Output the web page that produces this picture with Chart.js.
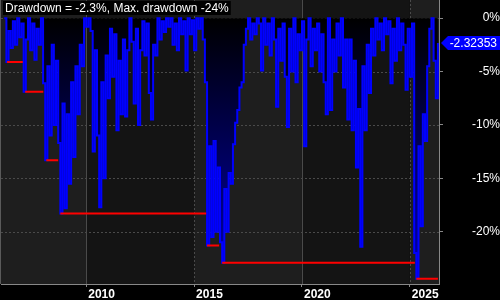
<!DOCTYPE html>
<html>
<head>
<meta charset="utf-8">
<script src="https://cdn.jsdelivr.net/npm/chart.js@4.4.1/dist/chart.umd.min.js"></script>
<style>
  html, body { margin: 0; padding: 0; background: #000; }
  #wrap { width: 500px; height: 300px; position: relative; }
</style>
</head>
<body>
<div id="wrap"><canvas id="ddChart"></canvas></div>
<script>
// Drawdown in percent, one value every 0.1 year from 2006.2
const startYear = 2006.2;
const stepYears = 0.1;
const drawdown = [
    0, -4.1, -1.2, -2.8, -0.3, -2.5, 0, -1.8, -0.5, -6.9,
    -2.0, 0, -3.0, -0.5, -3.9, -1.0, -2.5, 0, -6.1, -13.3,
    -4.5, -11.0, -2.5, -10.0, -4.0, -11.7, -18.3, -8.0, -17.8, -9.0,
    -15.5, -6.0, -13.0, -4.5, -9.0, -2.5, -4.5, 0, -0.8, 0,
    -1.2, -12.5, -3.0, -11.0, -17.7, -6.0, -15.0, -3.5, -7.5, -1.0,
    -5.5, -1.5, -10.5, -4.0, -9.0, -2.0, -9.2, -3.0, 0, -2.2,
    -8.0, -1.0, -10.0, -3.0, -0.3, -3.5, -0.5, -7.0, -9.5, -2.5,
    -3.5, 0, -2.0, -0.3, -1.3, 0, -0.8, 0, -2.5, -0.5,
    -3.0, 0, -1.5, -0.3, -4.9, 0, -1.5, -0.2, -3.0, 0,
    -1.0, 0, -2.0, -6.0, -21.3, -12.0, -20.5, -11.5, -20.0, -14.0,
    -21.0, -22.9, -16.0, -20.0, -14.5, -15.5, -11.8, -9.8, -8.6, -6.5,
    -6.0, -2.5, -1.0, 0, -2.0, -0.5, -1.5, 0, -0.5, -4.9,
    0, -2.5, -0.5, -3.5, 0, -2.0, -8.3, -1.0, -4.0, -0.5,
    -5.5, -10.2, -1.0, -5.0, 0, -6.0, -1.5, -3.0, -0.3, -12.0,
    -2.0, 0, -4.5, -1.0, -3.0, -0.5, -5.0, -1.5, -6.0, -9.0,
    0, -8.6, -2.0, -5.0, -0.5, -3.5, 0, -6.5, -2.0, -9.5,
    -2.0, -10.5, -4.0, -14.0, -8.5, -21.4, -4.5, -10.5, -2.5, -7.0,
    -1.0, -3.5, 0, -2.0, -0.5, -3.0, 0, -1.5, -0.3, -6.1,
    -1.0, -4.0, 0, -3.0, -0.5, -2.5, -6.7, -1.0, -5.5, -0.5,
    -22.0, -24.4, -12.0, -19.5, -9.0, -11.5, -4.5, -1.0, 0, -4.0,
    -7.5, -2.32353
];

// Max drawdown levels (red steps)
const maxDdStart = [2006.33, 2007.17, 2008.15, 2008.8, 2015.6, 2016.3, 2025.3];
const maxDdEnd = [2007.06, 2008.01, 2008.7, 2015.56, 2016.16, 2025.23, 2026.3];
const maxDdLevel = [-4.1, -6.9, -13.3, -18.3, -21.3, -22.9, -24.4];

const yearTicks = [2010, 2015, 2020, 2025];
const pctTicks = [-20, -15, -10, -5, 0];

const FONT = '"Liberation Sans", Arial, sans-serif';
const lastValue = drawdown[drawdown.length - 1];
const maxDrawdown = Math.min(...drawdown);

const ddPoints = drawdown.map((v, i) => ({ x: +(startYear + i * stepYears).toFixed(2), y: v }));
const stepPoints = [];
maxDdLevel.forEach((lvl, i) => {
    stepPoints.push({ x: maxDdStart[i], y: lvl }, { x: maxDdEnd[i], y: lvl }, { x: maxDdEnd[i], y: null });
});

// background bands + grid lines
const backdrop = {
    id: 'backdrop',
    beforeDraw(chart) {
        const { ctx, chartArea: a, scales: { x, y } } = chart;
        ctx.save();
        ctx.fillStyle = '#000';
        ctx.fillRect(0, 0, chart.width, chart.height);

        const edges = [x.min, ...yearTicks, x.max];
        for (let i = 0; i < edges.length - 1; i++) {
            const x0 = x.getPixelForValue(edges[i]);
            const x1 = x.getPixelForValue(edges[i + 1]);
            ctx.fillStyle = i % 2 ? '#141414' : '#1e1e1e';
            ctx.fillRect(x0, a.top, x1 - x0, a.bottom - a.top);
        }

        ctx.lineWidth = 1;
        ctx.strokeStyle = '#4a4a4a';
        ctx.setLineDash([2, 2]);
        pctTicks.forEach(v => {
            const py = Math.round(y.getPixelForValue(v)) + 0.5;
            ctx.beginPath();
            ctx.moveTo(a.left, py);
            ctx.lineTo(a.right, py);
            ctx.stroke();
        });
        yearTicks.forEach((v, i) => {
            ctx.setLineDash(i % 2 ? [2, 2] : []);
            const px = Math.round(x.getPixelForValue(v)) + 0.5;
            ctx.beginPath();
            ctx.moveTo(px, a.top);
            ctx.lineTo(px, a.bottom);
            ctx.stroke();
        });

        ctx.setLineDash([]);
        ctx.strokeStyle = '#5a5a5a';
        ctx.beginPath();
        ctx.moveTo(0.5, 0);
        ctx.lineTo(0.5, a.bottom);
        ctx.stroke();
        ctx.restore();
    }
};

// title box and last value tag
const overlay = {
    id: 'overlay',
    afterDraw(chart) {
        const { ctx, chartArea: a, scales: { y } } = chart;
        ctx.save();
        const title = `Drawdown = ${lastValue.toFixed(1)}%, Max. drawdown ${Math.round(maxDrawdown)}%`;
        ctx.font = '12px ' + FONT;
        const w = ctx.measureText(title).width;
        ctx.fillStyle = '#000';
        ctx.fillRect(3, 1, w + 4, 14);
        ctx.fillStyle = '#fff';
        ctx.textAlign = 'left';
        ctx.textBaseline = 'alphabetic';
        ctx.fillText(title, 5, 12);

        const py = Math.round(y.getPixelForValue(lastValue));
        ctx.fillStyle = '#0000ff';
        ctx.beginPath();
        ctx.moveTo(a.right + 2, py);
        ctx.lineTo(a.right + 9, py - 7);
        ctx.lineTo(chart.width, py - 7);
        ctx.lineTo(chart.width, py + 7);
        ctx.lineTo(a.right + 9, py + 7);
        ctx.closePath();
        ctx.fill();
        ctx.fillStyle = '#fff';
        ctx.textAlign = 'right';
        ctx.textBaseline = 'middle';
        ctx.fillText(String(lastValue), chart.width - 3, py + 1);
        ctx.restore();
    }
};

new Chart(document.getElementById('ddChart'), {
    type: 'line',
    data: {
        datasets: [
            {
                label: 'Max drawdown',
                data: stepPoints,
                borderColor: '#ff0000',
                borderWidth: 2,
                pointRadius: 0,
                spanGaps: false,
                fill: false,
                order: 0
            },
            {
                label: 'Drawdown',
                data: ddPoints,
                borderColor: '#0000ff',
                borderWidth: 2,
                pointRadius: 0,
                stepped: true,
                fill: { value: 0 },
                backgroundColor(context) {
                    const chart = context.chart;
                    if (!chart.chartArea) return '#000040';
                    const y = chart.scales.y;
                    const g = chart.ctx.createLinearGradient(0, y.getPixelForValue(0), 0, y.getPixelForValue(-25));
                    g.addColorStop(0, '#000000');
                    g.addColorStop(1, '#0000b4');
                    return g;
                },
                order: 1
            }
        ]
    },
    options: {
        responsive: true,
        maintainAspectRatio: false,
        animation: false,
        devicePixelRatio: 1,
        layout: { padding: { left: 1, top: 0, right: 0, bottom: 0 } },
        plugins: {
            legend: { display: false },
            tooltip: { enabled: false }
        },
        scales: {
            x: {
                type: 'linear',
                min: 2006.05,
                max: 2026.35,
                afterBuildTicks: s => { s.ticks = yearTicks.map(v => ({ value: v })); },
                afterFit: s => { s.height = 16; s.paddingLeft = 0; s.paddingRight = 0; },
                grid: { drawOnChartArea: false, drawTicks: true, tickLength: 3, tickColor: '#888' },
                border: { display: true, color: '#888' },
                ticks: {
                    color: '#fff',
                    font: { family: FONT, size: 12, weight: 'bold' },
                    align: 'start',
                    labelOffset: 2,
                    padding: 0,
                    maxRotation: 0,
                    autoSkip: false,
                    callback: v => String(v)
                }
            },
            y: {
                position: 'right',
                min: -24.9,
                max: 1.7,
                afterBuildTicks: s => { s.ticks = pctTicks.map(v => ({ value: v })); },
                afterFit: s => { s.width = 61; s.paddingTop = 0; s.paddingBottom = 0; },
                grid: { drawOnChartArea: false, tickLength: 4, tickColor: '#888' },
                border: { display: true, color: '#888' },
                ticks: {
                    color: '#fff',
                    font: { family: FONT, size: 12 },
                    crossAlign: 'far',
                    padding: 24,
                    callback: v => v + '%'
                }
            }
        }
    },
    plugins: [backdrop, overlay]
});
</script>
</body>
</html>
